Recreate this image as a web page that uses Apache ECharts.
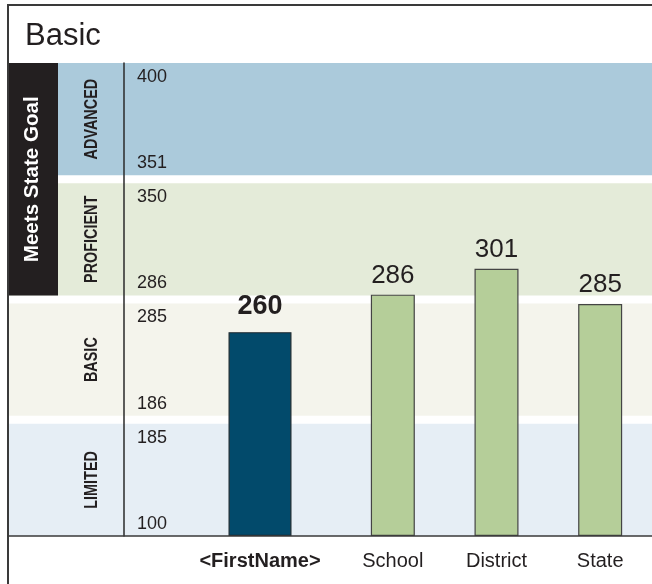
<!DOCTYPE html>
<html>
<head>
<meta charset="utf-8">
<script src="https://cdn.jsdelivr.net/npm/echarts@6/dist/echarts.min.js"></script>
<style>
html,body{margin:0;padding:0;background:#fff;}
#chart{width:652px;height:584px;}
</style>
</head>
<body>
<div id="chart"></div>
<script>
// ---- data ----
const titleText = 'Basic';
const goalText = 'Meets State Goal';
const bandNames = ['LIMITED', 'BASIC', 'PROFICIENT', 'ADVANCED'];
const bandLow = [100, 186, 286, 351];
const bandHigh = [185, 285, 350, 400];
const studentCategory = ['<FirstName>'];
const studentScore = [260];
const compareCategories = ['School', 'District', 'State'];
const compareScores = [286, 301, 285];

// ---- styles ----
const bandColors = ['#e6eef5', '#f4f4ec', '#e4ebd9', '#abcadb'];
const FONT = 'Liberation Sans, Arial, Helvetica, sans-serif';
const TEXT = '#231f20';
const GAP = 8 / 112; // white gap between bands, in band units

function bandStart(i) { return i * (1 + GAP); }
const TOTAL = bandStart(bandNames.length - 1) + 1;
function mapScore(v) {
  for (let i = 0; i < bandLow.length; i++) {
    const lo = bandLow[i] - 0.5, hi = bandHigh[i] + 0.5;
    if (v >= lo && v <= hi) return bandStart(i) + (v - lo) / (hi - lo);
  }
  return 0;
}
function findBand(v, top) {
  for (let i = 0; i < bandLow.length; i++) {
    const p = top ? bandStart(i) + 1 : bandStart(i);
    if (Math.abs(p - v) < 1e-6) return i;
  }
  return -1;
}

const TOP = 63, BOTTOM = 48;
const chart = echarts.init(document.getElementById('chart'), null, {renderer: 'canvas'});

const hiddenY = (gi) => ({gridIndex: gi, type: 'value', min: 0, max: TOTAL, show: false});

const option = {
  animation: false,
  backgroundColor: '#fff',
  title: {
    text: titleText, left: 20, top: 16,
    textStyle: {fontFamily: FONT, fontSize: 31, fontWeight: 'normal', color: TEXT}
  },
  grid: [
    {left: 8, right: 0, top: TOP, bottom: BOTTOM},          // background bands
    {left: 124, right: 0, top: TOP, bottom: BOTTOM},        // value axis
    {left: 195, width: 130, top: TOP, bottom: BOTTOM},      // student bar
    {left: 341, right: 0, top: TOP, bottom: BOTTOM}         // comparison bars
  ],
  xAxis: [
    {gridIndex: 0, type: 'value', min: 0, max: 1, z: 10, axisLabel: {show: false}, axisTick: {show: false}, splitLine: {show: false},
     axisLine: {show: true, onZero: false, lineStyle: {color: '#3a3a3a', width: 1.5}}},
    {gridIndex: 1, type: 'value', min: 0, max: 1, show: false},
    {gridIndex: 2, type: 'category', data: studentCategory, axisLine: {show: false}, axisTick: {show: false},
     axisLabel: {margin: 15, fontFamily: FONT, fontSize: 20, fontWeight: 'bold', color: TEXT}},
    {gridIndex: 3, type: 'category', data: compareCategories, axisLine: {show: false}, axisTick: {show: false},
     axisLabel: {margin: 15, fontFamily: FONT, fontSize: 20, color: TEXT}}
  ],
  yAxis: [
    hiddenY(0),
    {gridIndex: 1, type: 'value', min: 0, max: TOTAL, position: 'left', z: 10,
     axisLine: {show: true, lineStyle: {color: '#2a2a2a', width: 1.5}},
     axisTick: {show: false}, splitLine: {show: false},
     axisLabel: {inside: true, margin: 13, verticalAlign: 'top', padding: [5, 0, 0, 0],
       fontFamily: FONT, fontSize: 18, color: TEXT,
       customValues: bandNames.map((_, i) => bandStart(i) + 1),
       formatter: v => { const i = findBand(v, true); return i < 0 ? '' : String(bandHigh[i]); }}},
    {gridIndex: 1, type: 'value', min: 0, max: TOTAL, position: 'left', z: 10,
     axisLine: {show: false}, axisTick: {show: false}, splitLine: {show: false},
     axisLabel: {inside: true, margin: 13, verticalAlign: 'bottom', padding: [0, 0, 3, 0],
       fontFamily: FONT, fontSize: 18, color: TEXT,
       customValues: bandNames.map((_, i) => bandStart(i)),
       formatter: v => { const i = findBand(v, false); return i < 0 ? '' : String(bandLow[i]); }}},
    hiddenY(2),
    hiddenY(3)
  ],
  series: [
    {
      type: 'line', xAxisIndex: 0, yAxisIndex: 0, data: [[0, 0]], symbol: 'none', silent: true,
      lineStyle: {opacity: 0}, z: 0,
      markArea: {
        silent: true, label: {show: false},
        data: bandNames.map((_, i) => [
          {xAxis: 0, yAxis: bandStart(i), itemStyle: {color: bandColors[i], opacity: 1}},
          {xAxis: 1, yAxis: bandStart(i) + 1}
        ])
      }
    },
    {
      type: 'bar', xAxisIndex: 2, yAxisIndex: 3, barWidth: 63, z: 5,
      data: studentScore.map(mapScore),
      itemStyle: {color: '#024a6b', borderColor: '#1f2a30', borderWidth: 1.2},
      label: {show: true, position: 'top', distance: 12, fontFamily: FONT, fontSize: 27, fontWeight: 'bold', color: TEXT,
        formatter: p => String(studentScore[p.dataIndex])}
    },
    {
      type: 'bar', xAxisIndex: 3, yAxisIndex: 4, barWidth: 44, z: 5,
      data: compareScores.map(mapScore),
      itemStyle: {color: '#b5ce99', borderColor: '#444444', borderWidth: 1.2},
      label: {show: true, position: 'top', distance: 6, fontFamily: FONT, fontSize: 26, color: TEXT,
        formatter: p => String(compareScores[p.dataIndex])}
    }
  ]
};
chart.setOption(option);

// decorations positioned from the value axis
const yPix = v => chart.convertToPixel({gridIndex: 0}, [0, v])[1];
const goalTop = yPix(bandStart(3) + 1);
const goalBottom = yPix(bandStart(2));
const graphics = [
  {type: 'line', z: 10, shape: {x1: 8, y1: 5, x2: 652, y2: 5}, style: {stroke: '#3a3a3a', lineWidth: 2}},
  {type: 'line', z: 10, shape: {x1: 8, y1: 4, x2: 8, y2: 584}, style: {stroke: '#3a3a3a', lineWidth: 2}},
  {type: 'rect', z: 9, shape: {x: 8, y: goalTop, width: 50, height: goalBottom - goalTop}, style: {fill: '#231f20'}},
  {type: 'text', z: 11, x: 32, y: (goalTop + goalBottom) / 2, rotation: Math.PI / 2, scaleX: 1.03,
   style: {text: goalText, fill: '#ffffff', font: 'bold 20px ' + FONT, textAlign: 'center', textVerticalAlign: 'middle'}}
];
bandNames.forEach((name, i) => {
  const yc = (yPix(bandStart(i)) + yPix(bandStart(i) + 1)) / 2;
  graphics.push({type: 'text', z: 11, x: 92, y: yc, rotation: Math.PI / 2, scaleX: 0.8,
    style: {text: name, fill: TEXT, font: 'bold 18px ' + FONT, textAlign: 'center', textVerticalAlign: 'middle'}});
});
chart.setOption({graphic: graphics});
</script>
</body>
</html>
